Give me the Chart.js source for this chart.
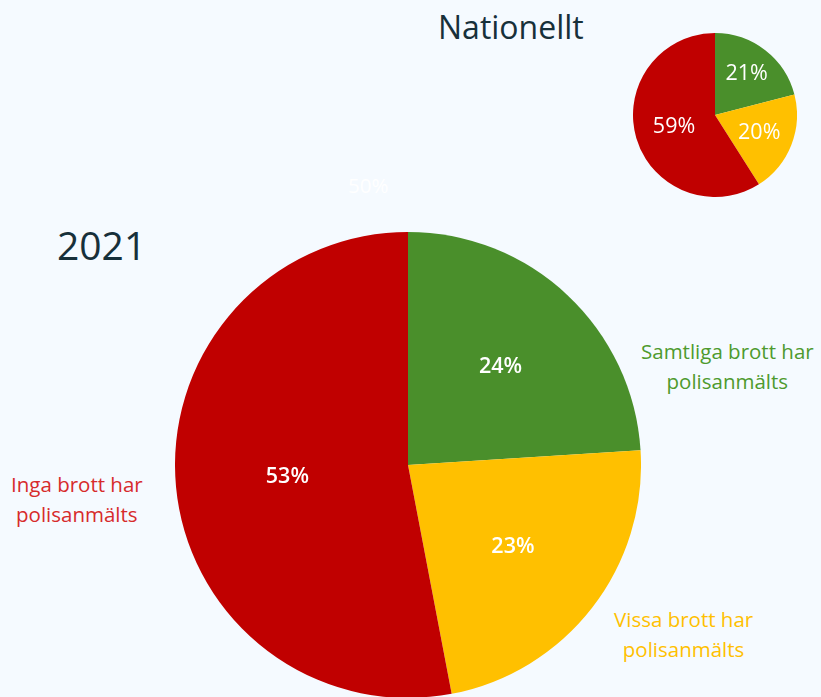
<!DOCTYPE html>
<html>
<head>
<meta charset="utf-8">
<script src="https://cdn.jsdelivr.net/npm/chart.js@4/dist/chart.umd.min.js"></script>
<style>
  html, body { margin: 0; padding: 0; }
  body { width: 821px; height: 697px; overflow: hidden; background: #f5faff; position: relative; font-family: "Open Sans", sans-serif; }
  .box { position: absolute; }
  .txt { position: absolute; white-space: nowrap; line-height: 30px; font-size: 20.5px; }
  #bigTitle { left: 57px; top: 222px; font-size: 39px; color: #17303a; line-height: 46px; }
  #natTitle { left: 438px; top: 6px; font-size: 32px; color: #17303a; line-height: 42px; }
  #ghost { left: 348px; top: 170px; color: #ffffff; }
  #lblGreen { left: 641px; top: 336px; text-align: center; color: #4e9a2e; }
  #lblRed { left: 11px; top: 469px; text-align: center; color: #d72b2b; }
  #lblYellow { left: 614px; top: 604px; text-align: center; color: #ffc000; }
</style>
</head>
<body>
<div class="txt" id="natTitle">Nationellt</div>
<div class="txt" id="bigTitle">2021</div>
<div class="txt" id="ghost">50%</div>
<div class="txt" id="lblGreen"></div>
<div class="txt" id="lblYellow"></div>
<div class="txt" id="lblRed"></div>
<div class="box" style="left:175px; top:232px; width:466px; height:466px;"><canvas id="bigPie" width="466" height="466"></canvas></div>
<div class="box" style="left:633px; top:33px; width:164px; height:164px;"><canvas id="natPie" width="164" height="164"></canvas></div>
<script>
// ---- data ----
const categories = ["Samtliga brott har polisanmälts", "Vissa brott har polisanmälts", "Inga brott har polisanmälts"];
const values2021 = [24, 23, 53];
const valuesNational = [21, 20, 59];
const sliceColors = ["#4a8f2b", "#ffc000", "#c00000"];

// outside labels, two lines each
const splitLabel = (txt) => txt.replace(" polisanmälts", "<br>polisanmälts");
document.getElementById("lblGreen").innerHTML = splitLabel(categories[0]);
document.getElementById("lblYellow").innerHTML = splitLabel(categories[1]);
document.getElementById("lblRed").innerHTML = splitLabel(categories[2]);

// percent text inside slices
const pctLabels = {
  id: "pctLabels",
  afterDatasetsDraw(chart, args, opts) {
    const ctx = chart.ctx;
    const meta = chart.getDatasetMeta(0);
    ctx.save();
    ctx.fillStyle = "#ffffff";
    ctx.font = opts.font;
    ctx.textAlign = "center";
    ctx.textBaseline = "middle";
    meta.data.forEach((arc, i) => {
      const p = arc.getProps(["x", "y", "startAngle", "endAngle", "outerRadius"]);
      const mid = (p.startAngle + p.endAngle) / 2;
      const r = p.outerRadius * opts.dist[i];
      ctx.fillText(chart.data.datasets[0].data[i] + "%", p.x + Math.cos(mid) * r, p.y + Math.sin(mid) * r);
    });
    ctx.restore();
  }
};

const makePie = (id, values, font, dist) => {
  new Chart(document.getElementById(id), {
    type: "pie",
    data: {
      labels: categories,
      datasets: [{
        data: values,
        backgroundColor: sliceColors,
        borderWidth: 0
      }]
    },
    options: {
      responsive: false,
      animation: false,
      layout: { padding: 0 },
      plugins: {
        legend: { display: false },
        tooltip: { enabled: false },
        pctLabels: { font: font, dist: dist }
      }
    },
    plugins: [pctLabels]
  });
};

makePie("bigPie", values2021, "600 21.5px 'Open Sans', sans-serif", [0.58, 0.57, 0.52]);
makePie("natPie", valuesNational, "21.5px 'Open Sans', sans-serif", [0.63, 0.58, 0.52]);
</script>
</body>
</html>
